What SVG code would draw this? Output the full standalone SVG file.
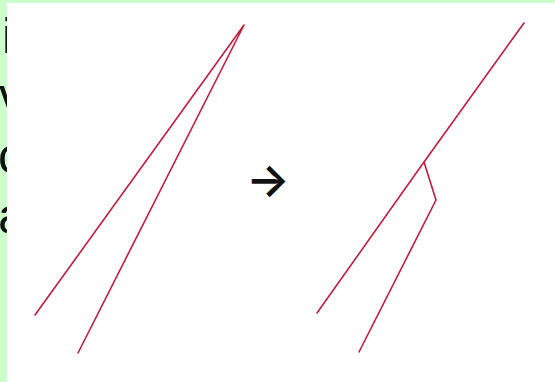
<svg xmlns="http://www.w3.org/2000/svg" width="555" height="382" viewBox="0 0 555 382">
<style>
.bg{fill:#ccffcc}
.panel{fill:#ffffff}
.side{font-family:"Liberation Sans",Arial,sans-serif;font-size:50px;fill:#111}
.ln{fill:none;stroke:#c21c3c;stroke-width:1.6;stroke-linecap:round;stroke-linejoin:round}
.arrow{font-family:Inter,"DejaVu Sans",sans-serif;font-size:46px;font-weight:600;fill:#111}
</style>
<rect class="bg" x="0" y="0" width="555" height="382"/>
<g id="side-text">
<text class="side" x="2" y="53">i</text>
<text class="side" x="-1" y="113">v</text>
<text class="side" x="-2" y="173">c</text>
<text class="side" x="-2" y="233">a</text>
</g>
<rect class="panel" x="7" y="3" width="548" height="379"/>
<g id="connectors">
<g id="before">
<polyline class="ln" points="35,315 244,25 78,353"/>
</g>
<g id="after">
<polyline class="ln" points="524,23 424,162 317,313"/>
<polyline class="ln" points="424,162 436,200 359,352"/>
</g>
</g>
<g id="transform-arrow">
<text class="arrow" x="268" y="196" text-anchor="middle">→</text>
</g>
</svg>
